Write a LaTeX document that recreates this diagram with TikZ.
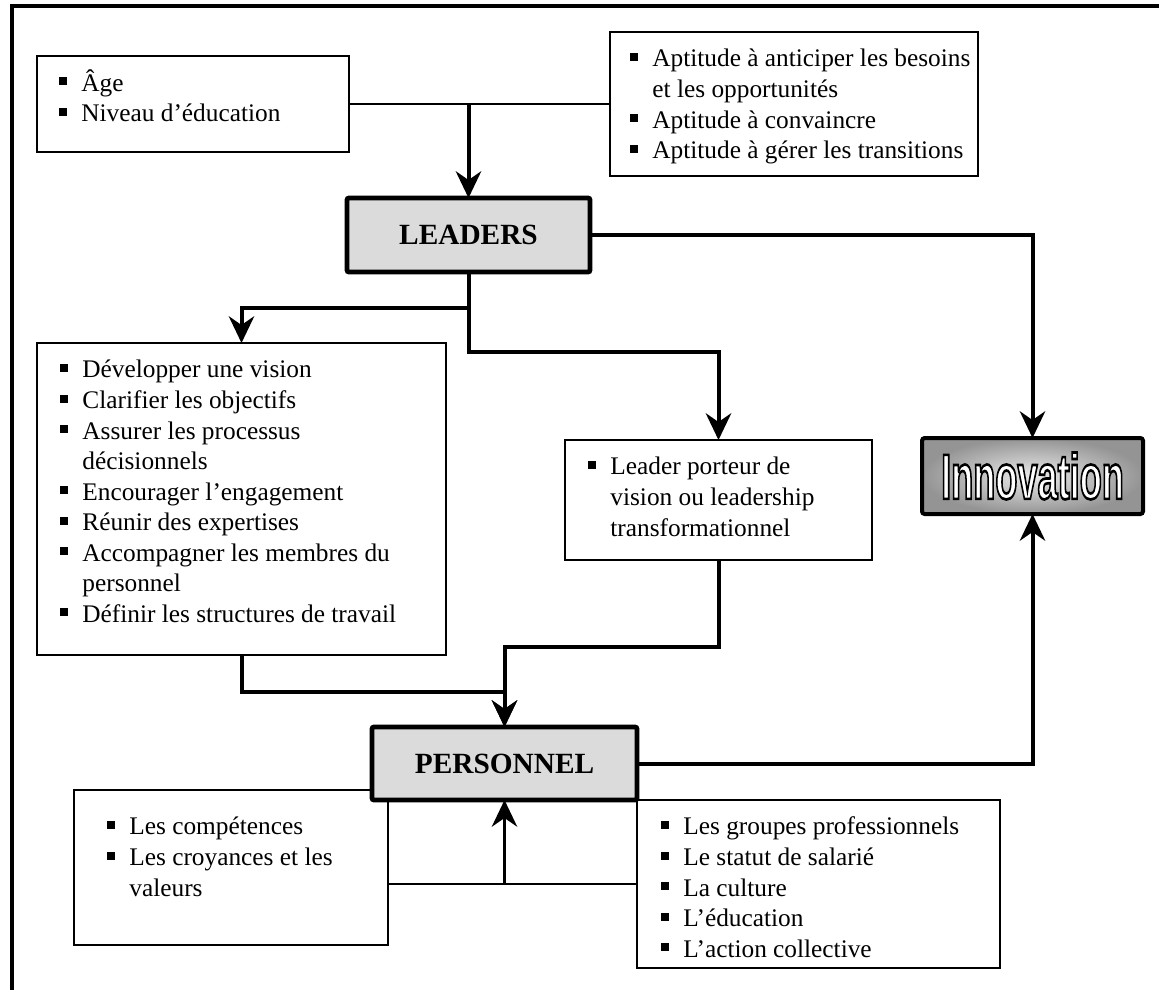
\documentclass[tikz,border=0pt]{standalone}
\usepackage{fontspec}
\setmainfont{Liberation Serif}
\usepackage{graphicx}
\usetikzlibrary{arrows.meta,calc}

% outlined lettering: the emboldened glyphs are stroked in black, filled in white
\font\innovraw="Liberation Sans Bold:embolden=4.2" at 48pt
\newcommand{\outlinetext}[1]{{\color{white}\special{pdf:literal direct 0 G}#1}}

% square bullet and list lines
\newcommand{\sqb}{\rule[4.5pt]{6pt}{6pt}}
\newcommand{\itm}[1]{\strut\makebox[16.8pt][l]{\sqb}#1}
\newcommand{\cnt}[1]{\strut\hspace*{16.8pt}#1}

\tikzset{
  every node/.style={inner sep=0pt, outer sep=0pt},
  sz/.style 2 args={minimum width=#1*0.75pt, minimum height=#2*0.75pt},
  box/.style={draw, line width=1.1pt, fill=white, anchor=north west},
  lines/.style={anchor=north west, align=left, font=\fontsize{19pt}{22.9pt}\selectfont},
  keybox/.style={draw, line width=3.6pt, fill=black!14, rounded corners=1.5pt,
    anchor=north west, font=\fontsize{22pt}{26pt}\selectfont\bfseries},
  conn/.style={line width=3pt, -{Stealth[length=20pt,width=19pt,inset=6.5pt]}},
  link/.style={line width=1.1pt},
}

\begin{document}
\begin{tikzpicture}[x=0.75pt, y=-0.75pt]
\useasboundingbox (0,0) rectangle (1159,990);

% outer frame
\draw[line width=3pt] (11.5,990) -- (11.5,6) -- (1159,6);

% boxes
\node[box, sz={312}{96}]  (age)  at (37,56)  {};
\node[box, sz={368}{144}] (apt)  at (610,32) {};
\node[box, sz={409}{312}] (big)  at (37,343) {};
\node[box, sz={307}{120}] (lead) at (565,440) {};
\node[box, sz={314}{155}] (comp) at (74,790) {};
\node[box, sz={363}{168}] (grp)  at (637,800) {};

\node[keybox, sz={243}{74}] (leaders) at (347,198) {LEADERS};
\node[keybox, sz={265}{73}] (pers)    at (372,727) {PERSONNEL};

\node[draw, line width=3pt, rounded corners=2pt, shade,
      inner color=black!8, outer color=black!42,
      sz={221}{76}, anchor=north west] (innov) at (922,438)
  {\outlinetext{\scalebox{0.565}[1]{\innovraw Innovation}}};

% box contents
\node[lines] (agetxt) at (59,69.6) {\itm{Âge}\\ \itm{Niveau d’éducation}};
\node[lines] (apttxt) at (630,45.6) {\itm{Aptitude à anticiper les besoins}\\
  \cnt{et les opportunités}\\ \itm{Aptitude à convaincre}\\
  \itm{Aptitude à gérer les transitions}};
\node[lines] (bigtxt) at (60,356.6) {\itm{Développer une vision}\\
  \itm{Clarifier les objectifs}\\ \itm{Assurer les processus}\\
  \cnt{décisionnels}\\ \itm{Encourager l’engagement}\\
  \itm{Réunir des expertises}\\ \itm{Accompagner les membres du}\\
  \cnt{personnel}\\ \itm{Définir les structures de travail}};
\node[lines] (leadtxt) at (588,453.6) {\itm{Leader porteur de}\\
  \cnt{vision ou leadership}\\ \cnt{transformationnel}};
\node[lines] (comptxt) at (107,813.6) {\itm{Les compétences}\\
  \itm{Les croyances et les}\\ \cnt{valeurs}};
\node[lines] (grptxt) at (661,813.6) {\itm{Les groupes professionnels}\\
  \itm{Le statut de salarié}\\ \itm{La culture}\\
  \itm{L’éducation}\\ \itm{L’action collective}};

% connectors
\draw[link] (age.east) -- (apt.west);
\draw[conn] (leaders.north |- age.east) -- (leaders.north);
\draw[conn] (leaders.east) -| (innov.north);
\draw[conn] (leaders.south) -- ++(0,36) -| (big.north);
\draw[conn] (leaders.south) -- ++(0,80) -| (lead.north);
\draw[conn] (big.south) -- ++(0,37) -| (pers.north);
\draw[conn] (lead.south) -- ++(0,87) -| (pers.north);
\draw[conn] (pers.east) -| (innov.south);
\draw[link] (comp.east |- grp.west) -- (grp.west);
\draw[conn, line width=2.4pt] (pers.south |- grp.west) -- (pers.south);
\end{tikzpicture}
\end{document}
